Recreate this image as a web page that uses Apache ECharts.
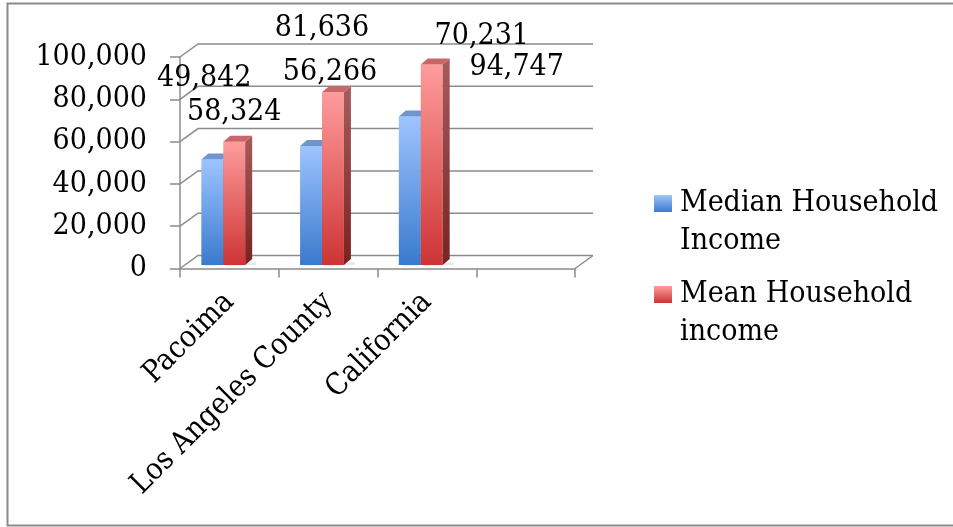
<!DOCTYPE html>
<html>
<head>
<meta charset="utf-8">
<script src="https://cdn.jsdelivr.net/npm/echarts@6/dist/echarts.min.js"></script>
<style>
  html, body { margin: 0; padding: 0; background: #ffffff; }
  #chart { width: 953px; height: 527px; }
</style>
</head>
<body>
<div id="chart"></div>
<script>
// ---- data ----
const categories = ['Pacoima', 'Los Angeles County', 'California', ''];
const medianIncome = [49842, 56266, 70231];
const meanIncome = [58324, 81636, 94747];
const yTicks = [0, 20000, 40000, 60000, 80000, 100000];
const seriesNames = ['Median Household Income', 'Mean Household income'];

// ---- look ----
const FONT = '"DejaVu Serif Condensed", "Liberation Serif", serif';
const FONT_SIZE = 30;
const GRID = '#8c8c8c';
const WALL_DX = 18, WALL_DY = -13;   // depth of the back wall
const BAR_DX = 7, BAR_DY = -6;       // depth of each bar
const LG = echarts.graphic.LinearGradient;

const palettes = [
  {
    front: new LG(0, 0, 0, 1, [{ offset: 0, color: '#9dc4ff' }, { offset: 1, color: '#3a7acd' }]),
    side: new LG(0, 0, 0, 1, [{ offset: 0, color: '#5f86c2' }, { offset: 1, color: '#2a5a9c' }]),
    top: '#6f95cf'
  },
  {
    front: new LG(0, 0, 0, 1, [{ offset: 0, color: '#ff9c9c' }, { offset: 1, color: '#cd3434' }]),
    side: new LG(0, 0, 0, 1, [{ offset: 0, color: '#a65c5c' }, { offset: 1, color: '#7a2222' }]),
    top: '#c96767'
  }
];

// value labels sit away from their bars; nudges relative to each bar's top centre
const labelNudge = [
  [[-8, -81], [19, -74], [72, -80]],
  [[0, -29], [-11, -64], [85, 3]]
];

const fmt = v => Number(v).toLocaleString('en-US');

function barRenderer(order) {
  const pal = palettes[order];
  return function (params, api) {
    const idx = api.value(0);
    const val = api.value(1);
    const band = api.size([1, 0])[0];
    const base = api.coord([idx, 0]);
    const top = api.coord([idx, val]);
    const bw = band * 0.222;
    const x0 = base[0] - band * 0.284 + order * bw;
    const yB = base[1] - 3.5;
    const yT = top[1] - 3.5;
    const nudge = labelNudge[order][params.dataIndex];
    return {
      type: 'group',
      children: [
        {
          type: 'polygon',
          shape: { points: [[x0 + 4, yB], [x0 + bw + BAR_DX + 4, yB - 3], [x0 + bw + BAR_DX + 4, yB], [x0 + 4, yB + 1]] },
          style: { fill: 'rgba(0,0,0,0.08)', shadowBlur: 3, shadowColor: 'rgba(0,0,0,0.2)' }
        },
        {
          type: 'rect',
          shape: { x: x0, y: yT, width: bw, height: yB - yT },
          style: { fill: pal.front }
        },
        {
          type: 'polygon',
          shape: { points: [[x0 + bw, yT], [x0 + bw + BAR_DX, yT + BAR_DY], [x0 + bw + BAR_DX, yB + BAR_DY], [x0 + bw, yB]] },
          style: { fill: pal.side }
        },
        {
          type: 'polygon',
          shape: { points: [[x0, yT], [x0 + BAR_DX, yT + BAR_DY], [x0 + bw + BAR_DX, yT + BAR_DY], [x0 + bw, yT]] },
          style: { fill: pal.top }
        },
        {
          type: 'text',
          z2: 10,
          style: {
            text: fmt(val),
            x: x0 + bw / 2 + nudge[0],
            y: yT + nudge[1],
            align: 'center',
            verticalAlign: 'middle',
            fontFamily: FONT,
            fontSize: FONT_SIZE,
            fill: '#000000'
          }
        }
      ]
    };
  };
}

// back wall gridlines and left wall diagonals
function frameRenderer(params, api) {
  const cs = params.coordSys;
  const v = api.value(1);
  const y = api.coord([0, v])[1];
  const L = cs.x, R = cs.x + cs.width;
  const stroke = { stroke: GRID, lineWidth: 1.5, fill: null };
  const children = [
    { type: 'polyline', shape: { points: [[L, y], [L + WALL_DX, y + WALL_DY], [R + WALL_DX, y + WALL_DY]] }, style: stroke }
  ];
  if (v === 0) {
    children.push({ type: 'line', shape: { x1: R, y1: y, x2: R + WALL_DX, y2: y + WALL_DY }, style: stroke });
  }
  return { type: 'group', children };
}

const chart = echarts.init(document.getElementById('chart'), null, { renderer: 'canvas' });

chart.setOption({
  backgroundColor: '#ffffff',
  animation: false,
  textStyle: { fontFamily: FONT },
  graphic: [
    {
      type: 'rect',
      shape: { x: 7.5, y: 3.5, width: 960, height: 522 },
      style: { fill: null, stroke: '#8a8a8a', lineWidth: 2 },
      silent: true
    }
  ],
  grid: { left: 180, top: 57, width: 395, height: 211.5 },
  xAxis: {
    type: 'category',
    data: categories,
    boundaryGap: true,
    axisLine: { show: true, lineStyle: { color: GRID, width: 1.5 } },
    axisTick: { show: true, interval: 0, length: 9, lineStyle: { color: GRID, width: 1.5 } },
    axisLabel: {
      interval: 0,
      rotate: 45,
      margin: 29,
      fontFamily: FONT,
      fontSize: FONT_SIZE,
      color: '#000000'
    },
    splitLine: { show: false }
  },
  yAxis: {
    type: 'value',
    min: 0,
    max: 100000,
    interval: 20000,
    axisLine: { show: true, lineStyle: { color: GRID, width: 1.5 } },
    axisTick: { show: true, length: 10, lineStyle: { color: GRID, width: 1.5 } },
    axisLabel: {
      margin: 33,
      fontFamily: FONT,
      fontSize: FONT_SIZE,
      color: '#000000',
      formatter: fmt
    },
    splitLine: { show: false }
  },
  legend: {
    orient: 'vertical',
    left: 654,
    top: 146.5,
    padding: 0,
    itemWidth: 18,
    itemHeight: 17,
    itemGap: -23,
    icon: 'rect',
    selectedMode: false,
    data: seriesNames,
    // an empty first line keeps the name's first line level with the swatch
    formatter: n => '\n' + n.replace(' Household ', ' Household\n'),
    textStyle: {
      fontFamily: FONT,
      fontSize: FONT_SIZE,
      lineHeight: 38,
      color: '#000000',
      padding: [0, 0, 0, 3]
    }
  },
  series: [
    {
      type: 'custom',
      name: 'frame',
      silent: true,
      z: 1,
      data: yTicks.map(v => [0, v]),
      renderItem: frameRenderer
    },
    {
      type: 'custom',
      name: seriesNames[0],
      z: 2,
      itemStyle: { color: palettes[0].front },
      data: medianIncome.map((v, i) => [i, v]),
      renderItem: barRenderer(0)
    },
    {
      type: 'custom',
      name: seriesNames[1],
      z: 3,
      itemStyle: { color: palettes[1].front },
      data: meanIncome.map((v, i) => [i, v]),
      renderItem: barRenderer(1)
    }
  ]
});
</script>
</body>
</html>
